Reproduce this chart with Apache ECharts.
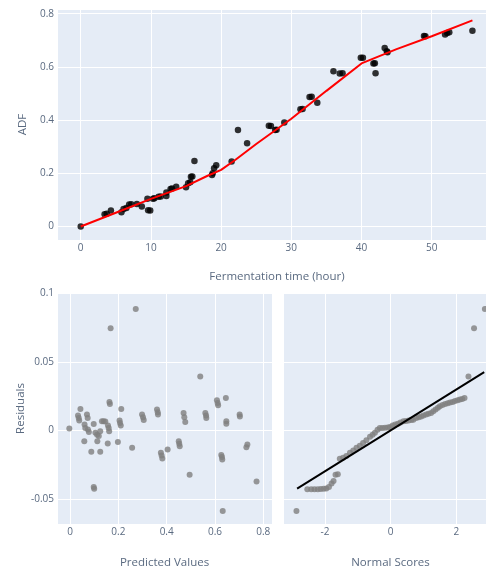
<!DOCTYPE html>
<html>
<head>
<meta charset="utf-8">
<script src="https://cdn.jsdelivr.net/npm/echarts@6/dist/echarts.min.js"></script>
<style>
html,body{margin:0;padding:0;background:#fff;}
#chart{width:486px;height:570px;}
</style>
</head>
<body>
<div id="chart"></div>
<script>
// Top panel: observed ADF vs fermentation time
const adfTime = [0,3.4,3.7,4.3,5.8,6.1,6.5,6.9,7.2,8.0,8.7,9.6,9.9,9.5,10.3,10.5,11.1,11.4,12.2,12.2,12.8,13.0,13.6,15.0,15.3,15.6,15.7,15.9,16.2,18.7,18.8,19.0,19.3,21.5,22.4,23.7,26.8,27.1,27.7,27.9,29.0,31.3,31.6,32.6,32.9,33.7,36.0,36.9,37.3,39.9,40.2,41.7,41.9,42.0,43.3,43.6,43.7,48.9,49.1,51.9,52.2,52.5,55.8];
const adfValue = [0,0.046,0.048,0.060,0.054,0.066,0.070,0.083,0.084,0.085,0.075,0.061,0.060,0.104,0.104,0.106,0.112,0.113,0.115,0.128,0.141,0.143,0.150,0.148,0.163,0.166,0.187,0.188,0.246,0.194,0.200,0.219,0.230,0.244,0.363,0.313,0.379,0.378,0.363,0.364,0.391,0.441,0.442,0.487,0.488,0.465,0.584,0.575,0.576,0.634,0.634,0.613,0.614,0.576,0.671,0.659,0.655,0.716,0.715,0.722,0.727,0.730,0.736];
// Fitted curve (red)
const fitTime = [0,5,10,15,18,20,22,25,30,35,40,45,50,55.8];
const fitValue = [0,0.052,0.104,0.152,0.19,0.213,0.25,0.31,0.405,0.51,0.613,0.667,0.715,0.775];

// Bottom-left: residuals vs predicted
const predicted = [-0.003,0.043,0.033,0.036,0.038,0.070,0.073,0.060,0.063,0.074,0.078,0.098,0.059,0.088,0.098,0.100,0.105,0.112,0.119,0.113,0.125,0.125,0.132,0.139,0.146,0.157,0.160,0.162,0.156,0.163,0.165,0.168,0.212,0.205,0.207,0.210,0.198,0.257,0.272,0.298,0.302,0.305,0.360,0.363,0.364,0.376,0.379,0.382,0.404,0.450,0.452,0.454,0.470,0.473,0.477,0.495,0.539,0.560,0.563,0.564,0.608,0.611,0.613,0.645,0.647,0.647,0.626,0.629,0.630,0.632,0.702,0.703,0.730,0.734,0.772];
const residual = [0.0014,0.0157,0.0109,0.0091,0.0072,0.0116,0.0091,0.0043,0.0019,0.0007,-0.0010,0.0048,-0.0078,-0.0155,-0.0410,-0.0423,-0.0017,-0.0030,-0.0040,-0.0078,-0.0005,-0.0155,0.0067,0.0067,0.0065,0.0036,0.0019,-0.0005,-0.0094,0.0207,0.0193,0.0743,0.0157,0.0072,0.0055,0.0036,-0.0083,-0.0126,0.0884,0.0116,0.0096,0.0077,0.0152,0.0133,0.0116,-0.0162,-0.0181,-0.0203,-0.0138,-0.0078,-0.0097,-0.0114,0.0128,0.0096,0.0062,-0.0322,0.0393,0.0128,0.0109,0.0091,0.0220,0.0200,0.0183,0.0236,0.0067,0.0050,-0.0179,-0.0193,-0.0210,-0.0585,0.0116,0.0101,-0.0121,-0.0101,-0.0370];

// Bottom-right: normal probability plot
const qqTheoretical = [-2.87,-2.54,-2.42,-2.32,-2.22,-2.13,-2.04,-1.96,-1.88,-1.80,-1.74,-1.68,-1.61,-1.55,-1.45,-1.35,-1.24,-1.14,-1.04,-0.94,-0.84,-0.74,-0.63,-0.55,-0.48,-0.40,-0.33,-0.25,-0.17,-0.09,-0.02,0.06,0.14,0.22,0.30,0.39,0.47,0.55,0.63,0.69,0.78,0.86,0.93,1.00,1.08,1.15,1.23,1.30,1.37,1.44,1.50,1.58,1.66,1.74,1.81,1.89,1.96,2.04,2.11,2.18,2.25,2.37,2.54,2.87];
const qqSample = [-0.0585,-0.0428,-0.0428,-0.0428,-0.0427,-0.0426,-0.0424,-0.0421,-0.0411,-0.0385,-0.0367,-0.0322,-0.0318,-0.0205,-0.0198,-0.0185,-0.0162,-0.0145,-0.0126,-0.0110,-0.0090,-0.0070,-0.0045,-0.0030,-0.0017,0.0005,0.0019,0.0019,0.0020,0.0022,0.0025,0.0036,0.0043,0.0050,0.0058,0.0067,0.0070,0.0072,0.0077,0.0079,0.0091,0.0096,0.0101,0.0109,0.0116,0.0122,0.0128,0.0140,0.0152,0.0165,0.0176,0.0185,0.0193,0.0198,0.0203,0.0207,0.0215,0.0220,0.0225,0.0230,0.0237,0.0393,0.0743,0.0884];
const qqLineX = [-2.85,2.85];
const qqLineY = [-0.0423,0.0425];

const zip = (a,b) => a.map((v,i)=>[v,b[i]]);

const FONT = 'Open Sans';
const TICK = '#5a6a80';
const GRIDBG = '#E5ECF6';

function xAx(gridIndex, min, max, splitNumber, name, nameGap){
  return {
    type:'value', gridIndex, min, max, splitNumber,
    name, nameLocation:'middle', nameGap,
    nameTextStyle:{color:TICK, fontFamily:FONT, fontSize:11.5},
    axisLine:{show:false}, axisTick:{show:false},
    axisLabel:{color:TICK, fontFamily:FONT, fontSize:10, margin:3, showMinLabel:false, showMaxLabel:false},
    splitLine:{show:true, lineStyle:{color:'#ffffff', width:1}}
  };
}
function yAx(gridIndex, min, max, splitNumber, name, showLabels){
  return {
    type:'value', gridIndex, min, max, splitNumber,
    name, nameLocation:'middle', nameGap:28,
    nameTextStyle:{color:TICK, fontFamily:FONT, fontSize:11.5},
    axisLine:{show:false}, axisTick:{show:false},
    axisLabel:{show:showLabels, color:TICK, fontFamily:FONT, fontSize:10, margin:3, showMinLabel:false},
    splitLine:{show:true, lineStyle:{color:'#ffffff', width:1}}
  };
}

const chart = echarts.init(document.getElementById('chart'), null, {renderer:'canvas'});
chart.setOption({
  animation:false,
  backgroundColor:'#ffffff',
  grid:[
    {left:57, top:9, width:440, height:231, show:true, backgroundColor:GRIDBG, borderWidth:0, containLabel:false, outerBoundsMode:'none'},
    {left:57, top:293, width:215, height:231, show:true, backgroundColor:GRIDBG, borderWidth:0, containLabel:false, outerBoundsMode:'none'},
    {left:283, top:293, width:215, height:231, show:true, backgroundColor:GRIDBG, borderWidth:0, containLabel:false, outerBoundsMode:'none'}
  ],
  xAxis:[
    xAx(0, -3.38, 59.3, 6, 'Fermentation time (hour)', 31),
    xAx(1, -0.054, 0.836, 4, 'Predicted Values', 33),
    xAx(2, -3.28, 3.27, 3, 'Normal Scores', 33)
  ],
  yAxis:[
    yAx(0, -0.0506, 0.8176, 4, 'ADF', true),
    yAx(1, -0.068, 0.1, 3, 'Residuals', true),
    yAx(2, -0.068, 0.1, 3, '', false)
  ],
  series:[
    {type:'scatter', xAxisIndex:0, yAxisIndex:0, data:zip(adfTime, adfValue), symbolSize:6.5, itemStyle:{color:'#000000'}, z:3},
    {type:'line', xAxisIndex:0, yAxisIndex:0, data:zip(fitTime, fitValue), symbol:'none', lineStyle:{color:'#ff0000', width:2}, z:4},
    {type:'scatter', xAxisIndex:1, yAxisIndex:1, data:zip(predicted, residual), symbolSize:6, itemStyle:{color:'#808080'}},
    {type:'scatter', xAxisIndex:2, yAxisIndex:2, data:zip(qqTheoretical, qqSample), symbolSize:6, itemStyle:{color:'#808080'}},
    {type:'line', xAxisIndex:2, yAxisIndex:2, data:zip(qqLineX, qqLineY), symbol:'none', lineStyle:{color:'#000000', width:2}, z:4}
  ]
});
</script>
</body>
</html>
